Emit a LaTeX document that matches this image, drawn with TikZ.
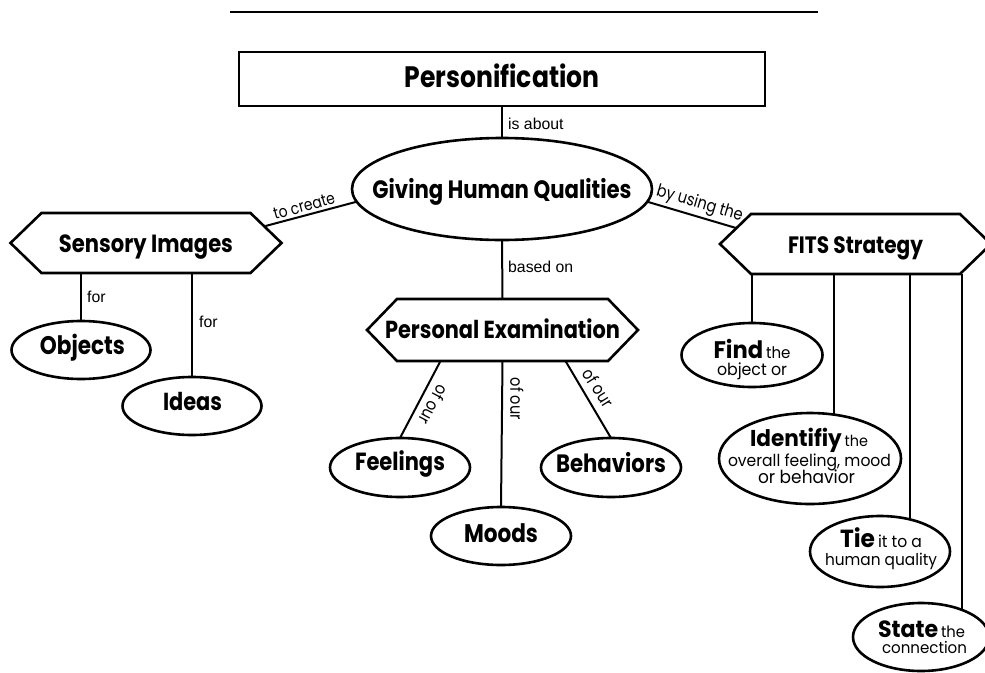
\documentclass[tikz,border=0pt]{standalone}
\usepackage{fontspec}
\setmainfont{Poppins}
\newfontfamily\helvfont{Liberation Sans}
\usetikzlibrary{shapes.geometric,calc}
\newcommand{\fitw}[2]{\scalebox{1}[1.18]{\resizebox{#1pt}{!}{#2}}}
\newcommand{\fitn}[2]{\scalebox{1}[1.06]{\resizebox{#1pt}{!}{#2}}}
\newcommand{\hexoutline}[2]{%
  \draw[boxline] (#1.west) -- ([xshift=#2pt]#1.north west) -- ([xshift=-#2pt]#1.north east) -- (#1.east) -- ([xshift=-#2pt]#1.south east) -- ([xshift=#2pt]#1.south west) -- cycle;}
\newcommand{\bigw}[1]{{\fontsize{21}{21}\selectfont\bfseries #1}}
\newcommand{\smallw}[1]{{\fontsize{14}{14}\selectfont #1}}
\begin{document}
\begin{tikzpicture}[x=1pt,y=-1pt,
  boxline/.style={line width=2.6pt, line join=miter},
  conn/.style={line width=2pt},
  ell/.style={ellipse, draw, line width=2.6pt, inner sep=0pt, outer sep=0pt},
  hexnode/.style={rectangle, inner sep=0pt, outer sep=0pt, minimum width=271pt, minimum height=60pt},
  txt/.style={inner sep=0pt, outer sep=0pt, anchor=base},
  lab/.style={inner sep=0pt, anchor=base west, font=\helvfont\fontsize{15.8}{18}\selectfont},
  plab/.style={inner sep=7pt},
]
\useasboundingbox (0,0) rectangle (985,672);
\fill[white] (0,0) rectangle (985,672);

% top rule
\coordinate (rl) at (230,12);
\coordinate (rr) at (818,12);
\draw[line width=2.6pt] (rl) -- (rr);

% title box
\node[draw, line width=2.6pt, minimum width=526pt, minimum height=54pt, inner sep=0pt, outer sep=0pt] (per) at (502,79) {};
\node[txt] (pert) at (502,87) {\fitw{195}{\bfseries Personification}};

% central ellipse
\node[ell, minimum width=300pt, minimum height=102pt] (ghq) at (502,189) {};
\node[txt] (ghqt) at (502,198) {\fitw{259}{\bfseries Giving Human Qualities}};

% hexagons
\node[hexnode] (si) at (146,243) {};
\hexoutline{si}{31}
\node[txt] (sit) at (146,252) {\fitw{174}{\bfseries Sensory Images}};

\node[hexnode] (fits) at (855.5,244) {};
\hexoutline{fits}{31}
\node[txt] (fitst) at (855.5,253) {\fitw{135}{\bfseries FITS Strategy}};

\node[hexnode, minimum height=62pt] (pe) at (502.5,330) {};
\hexoutline{pe}{30}
\node[txt] (pet) at (502.5,338) {\fitw{235}{\bfseries Personal Examination}};

% leaf ellipses
\node[ell, minimum width=139pt, minimum height=58pt] (obj) at (81,350) {};
\node[txt] (objt) at (82.5,354) {\fitw{85}{\bfseries Objects}};
\node[ell, minimum width=139pt, minimum height=58pt] (ide) at (192,406) {};
\node[txt] (idet) at (192.5,410) {\fitw{59}{\bfseries Ideas}};

\node[ell, minimum width=140pt, minimum height=59pt] (fee) at (400,467.5) {};
\node[txt] (feet) at (400,470) {\fitw{90}{\bfseries Feelings}};
\node[ell, minimum width=140pt, minimum height=58pt] (moo) at (501,536) {};
\node[txt] (moot) at (501,542) {\fitw{74}{\bfseries Moods}};
\node[ell, minimum width=140pt, minimum height=59pt] (beh) at (611,467.5) {};
\node[txt] (beht) at (611,472) {\fitw{110}{\bfseries Behaviors}};

\node[ell, minimum width=141pt, minimum height=64pt] (find) at (752,355) {};
\node[txt] (findt1) at (752,358) {\fitn{77}{\bigw{Find} \smallw{the}}};
\node[txt] (findt2) at (752,375) {\fitn{70}{\smallw{object or}}};

\node[ell, minimum width=182pt, minimum height=91pt] (idf) at (810,458.5) {};
\node[txt] (idft1) at (809,446) {\fitn{118}{\bigw{Identifiy} \smallw{the}}};
\node[txt] (idft2) at (809.5,466) {\fitn{163}{\smallw{overall feeling, mood}}};
\node[txt] (idft3) at (806.5,483) {\fitn{97}{\smallw{or behavior}}};

\node[ell, minimum width=140pt, minimum height=71pt] (tie) at (880,551.5) {};
\node[txt] (tiet1) at (881,547) {\fitn{82}{\bigw{Tie} \smallw{it to a}}};
\node[txt] (tiet2) at (881,565) {\fitn{112}{\smallw{human quality}}};

\node[ell, minimum width=136pt, minimum height=68pt] (sta) at (921,637) {};
\node[txt] (stat1) at (921.5,637) {\fitn{87}{\bigw{State} \smallw{the}}};
\node[txt] (stat2) at (924.5,653) {\fitn{85}{\smallw{connection}}};

% connectors
\draw[conn] (per.south) -- (ghq.north);
\node[lab] (lab1) at (508,129) {is about};

\draw[conn] (ghq.south) -- (pe.north);
\node[lab] (lab2) at (508,272) {based on};

\draw[conn] ([shift={(-16,-17)}]si.east) -- node[pos=0.45, sloped, above, inner sep=2.5pt] (lab3) {\fitw{63}{to create}} (ghq.185);
\draw[conn] (ghq.355) -- node[pos=0.55, sloped, above, inner sep=2.5pt] (lab4) {\fitw{89}{by using the}} ([shift={(16,-16)}]fits.west);

\draw[conn] (si.south -| obj.north) -- (obj.north);
\node[lab] (lab5) at (87,302) {for};
\draw[conn] (si.south -| ide.north) -- (ide.north);
\node[lab] (lab6) at (199,327) {for};

\draw[conn] ([xshift=-62pt]pe.south) -- node[pos=0.48, rotate=-118, anchor=south, plab] (lab7) {\fitw{42}{of our}} (fee.north);
\draw[conn] (pe.south) -- node[pos=0.26, rotate=-90, anchor=south, plab] (lab8) {\fitw{42}{of our}} (moo.north);
\draw[conn] ([xshift=63pt]pe.south) -- node[pos=0.45, rotate=-58, anchor=south, plab] (lab9) {\fitw{42}{of our}} (beh.north);

\draw[conn] (fits.south -| find.north) -- (find.north);
\draw[conn] (fits.south -| idf.61) -- (idf.61);
\draw[conn] (fits.south -| tie.47) -- (tie.47);
\draw[conn] (fits.south -| sta.34) -- (sta.34);
\end{tikzpicture}
\end{document}
